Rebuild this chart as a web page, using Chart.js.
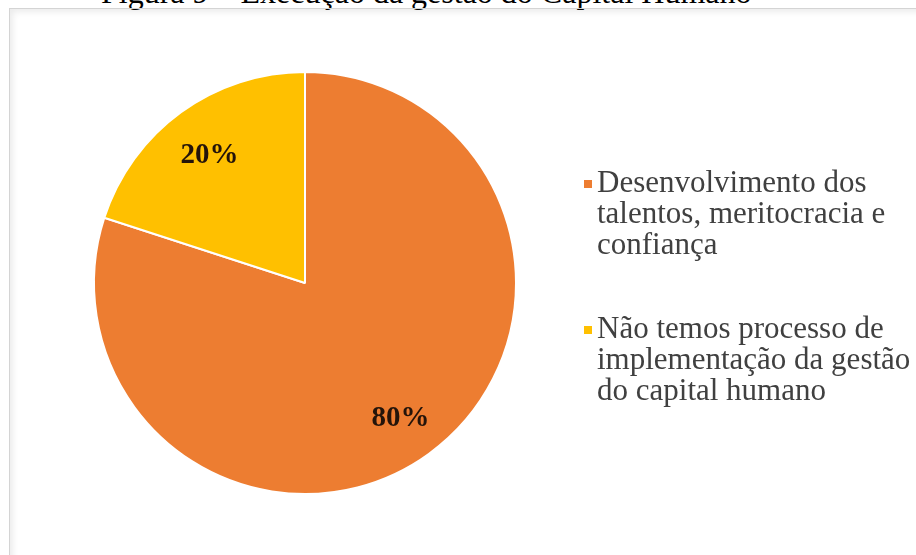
<!DOCTYPE html>
<html>
<head>
<meta charset="utf-8">
<script src="https://cdn.jsdelivr.net/npm/chart.js@4.4.1/dist/chart.umd.min.js"></script>
<style>
    html, body { margin: 0; padding: 0; background: #ffffff; }
    body { width: 916px; height: 555px; position: relative; overflow: hidden; }
    #title {
        position: absolute; left: 101px; top: -26px; white-space: nowrap;
        font-family: "Liberation Serif", "Times New Roman", serif; font-size: 32px; color: #000;
    }
    #frame {
        position: absolute; left: 9px; top: 8px; width: 930px; height: 580px;
        border: 1px solid #d4d4d4; box-shadow: inset 3px 3px 6px rgba(0,0,0,0.08);
    }
    #chartBox { position: absolute; left: 0; top: 0; width: 916px; height: 555px; }
</style>
</head>
<body>
<div id="title">Figura 9 – Execução da gestão do Capital Humano</div>
<div id="frame"></div>
<div id="chartBox"><canvas id="pieChart" width="916" height="555"></canvas></div>
<script>
const categories = [
    'Desenvolvimento dos talentos, meritocracia e confiança',
    'Não temos processo de implementação da gestão do capital humano'
];
const values = [80, 20];
const sliceColors = ['#ED7D31', '#FFC000'];

// wrap a label into lines that fit maxWidth
function wrapText(ctx, text, maxWidth) {
    const words = text.split(' ');
    const lines = [];
    let line = '';
    words.forEach(function (w) {
        const test = line ? line + ' ' + w : w;
        if (ctx.measureText(test).width > maxWidth && line) {
            lines.push(line);
            line = w;
        } else {
            line = test;
        }
    });
    if (line) lines.push(line);
    return lines;
}

// percentage labels inside the slices
const sliceLabels = {
    id: 'sliceLabels',
    afterDatasetsDraw(chart) {
        const ctx = chart.ctx;
        const meta = chart.getDatasetMeta(0);
        const total = values.reduce((a, b) => a + b, 0);
        ctx.save();
        ctx.font = 'bold 29px "Liberation Serif", "Times New Roman", serif';
        ctx.fillStyle = '#24140a';
        ctx.textAlign = 'center';
        ctx.textBaseline = 'middle';
        meta.data.forEach(function (arc, i) {
            const p = arc.getProps(['x', 'y', 'startAngle', 'endAngle', 'outerRadius'], true);
            const mid = (p.startAngle + p.endAngle) / 2;
            const r = p.outerRadius * 0.77;
            const pct = Math.round(values[i] / total * 100) + '%';
            ctx.fillText(pct, p.x + Math.cos(mid) * r, p.y + Math.sin(mid) * r + 4);
        });
        ctx.restore();
    }
};

// legend on the right, wrapped like the original
const sideLegend = {
    id: 'sideLegend',
    afterDraw(chart) {
        const ctx = chart.ctx;
        const x = 597;
        const lineH = 31;
        let y = 184;
        ctx.save();
        ctx.font = '31px "Liberation Serif", "Times New Roman", serif';
        ctx.textBaseline = 'middle';
        categories.forEach(function (label, i) {
            const lines = wrapText(ctx, label, 316);
            ctx.fillStyle = sliceColors[i];
            ctx.fillRect(x - 13, y - 4, 8, 8);
            ctx.fillStyle = '#404040';
            lines.forEach(function (ln, j) {
                ctx.fillText(ln, x, y + j * lineH);
            });
            y += lines.length * lineH + 53;
        });
        ctx.restore();
    }
};

new Chart(document.getElementById('pieChart'), {
    type: 'pie',
    data: {
        labels: categories,
        datasets: [{
            data: values,
            backgroundColor: sliceColors,
            borderColor: '#ffffff',
            borderWidth: 2,
            hoverOffset: 0
        }]
    },
    options: {
        responsive: false,
        animation: false,
        layout: { padding: { left: 93, right: 399, top: 71, bottom: 60 } },
        plugins: {
            legend: { display: false },
            tooltip: { enabled: false }
        }
    },
    plugins: [sliceLabels, sideLegend]
});
</script>
</body>
</html>
